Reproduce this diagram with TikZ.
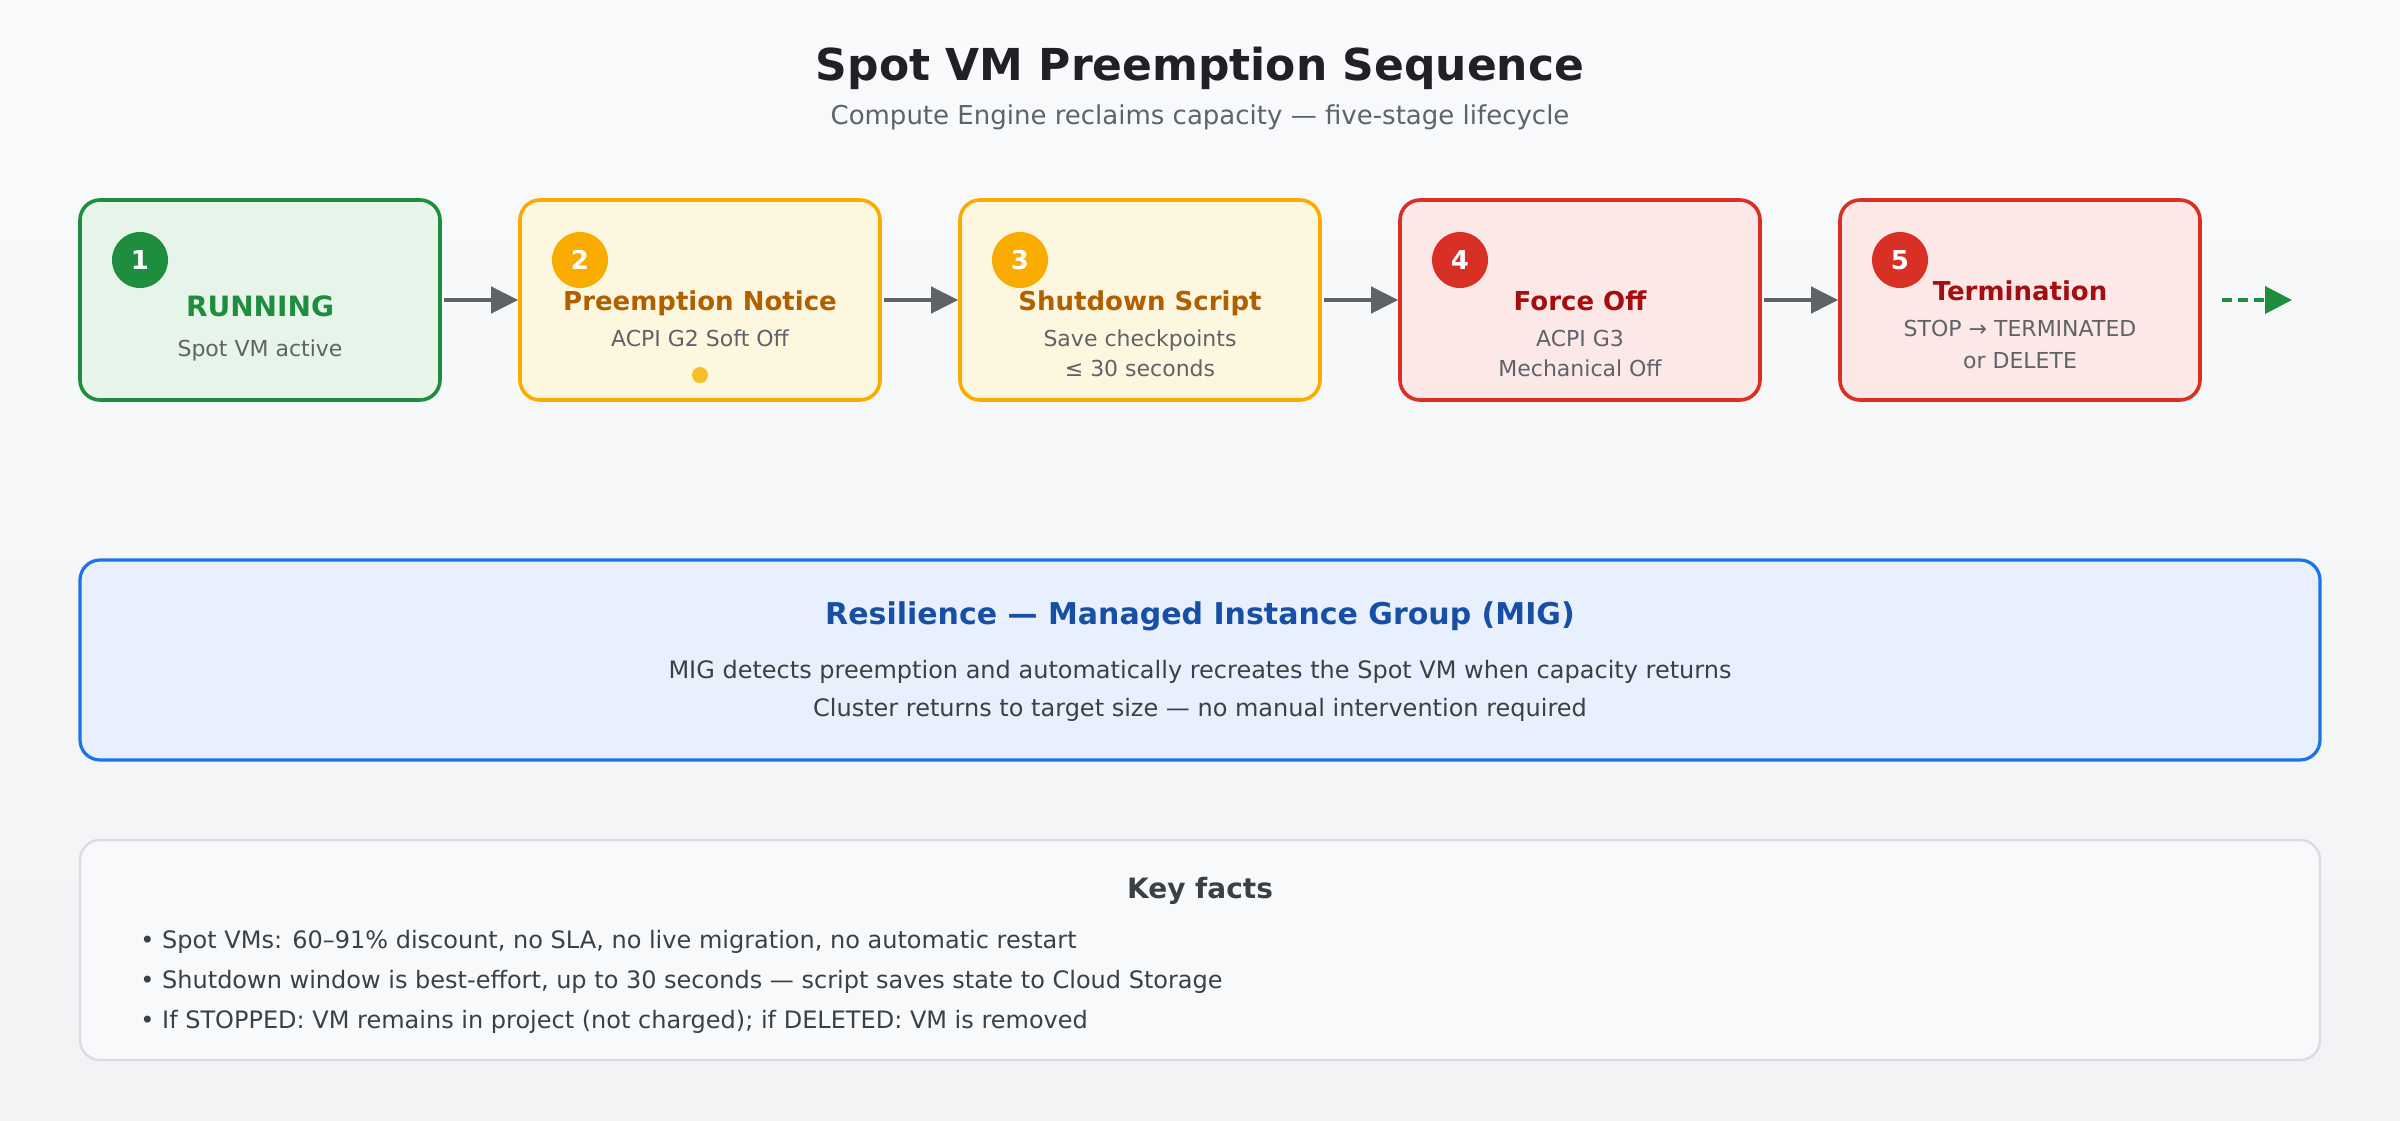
\documentclass[tikz,border=0pt]{standalone}
\usepackage{fontspec}
\setmainfont{DejaVu Sans}
\usetikzlibrary{arrows.meta}
\definecolor{bgtop}{HTML}{F9FAFB}
\definecolor{bgbot}{HTML}{F1F3F5}
\definecolor{ink}{HTML}{202124}
\definecolor{muted}{HTML}{5F6368}
\definecolor{body}{HTML}{3C4043}
\definecolor{gfill}{HTML}{E6F4EA}
\definecolor{gline}{HTML}{1E8E3E}
\definecolor{yfill}{HTML}{FEF7E0}
\definecolor{yline}{HTML}{F9AB00}
\definecolor{ytext}{HTML}{B06000}
\definecolor{ydot}{HTML}{F6BF26}
\definecolor{rfill}{HTML}{FCE8E6}
\definecolor{rline}{HTML}{D93025}
\definecolor{rtext}{HTML}{A50E0E}
\definecolor{bfill}{HTML}{E8F0FE}
\definecolor{bline}{HTML}{1A73E8}
\definecolor{btext}{HTML}{174EA6}
\definecolor{kfill}{HTML}{F8F9FA}
\definecolor{kline}{HTML}{DADCE0}
\newcommand{\fsz}[1]{\fontsize{#1}{#1}\selectfont}
\begin{document}
\begin{tikzpicture}[x=1pt,y=-1pt,
  stepbox/.style={rectangle, rounded corners=10pt, minimum width=180pt, minimum height=100pt, line width=1.8pt, inner sep=0pt},
  panel/.style={rectangle, rounded corners=10pt, minimum width=1120pt, inner sep=0pt},
  badge/.style={circle, minimum size=28pt, inner sep=0pt, text=white, font=\bfseries\fsz{13}},
  steptitle/.style={anchor=base, inner sep=0pt, font=\bfseries\fsz{13}},
  stepsub/.style={anchor=base, inner sep=0pt, text=muted, font=\fsz{11}},
  bodyline/.style={anchor=base, inner sep=0pt, text=body, font=\fsz{12}},
  bullet/.style={anchor=base west, inner sep=0pt, text=body, font=\fsz{12}},
  flow/.style={draw=muted, line width=2pt, -{Triangle[length=13.5pt,width=13pt]}, shorten <=1pt},
  dashflow/.style={draw=gline, line width=2pt, dash pattern=on 5pt off 3pt, -{Triangle[length=13.5pt,width=13.5pt]}}
]
\shade[top color=bgtop, bottom color=bgbot] (0,0) rectangle (1200,560);
\useasboundingbox (0,0) rectangle (1200,560);

% title
\node[anchor=base, inner sep=0pt, text=ink, font=\bfseries\fsz{22}] (title) at (600,40) {Spot VM Preemption Sequence};
\node[anchor=base, inner sep=0pt, text=muted, font=\fsz{13}] (subtitle) at (600,62) {Compute Engine reclaims capacity — five-stage lifecycle};

% stage boxes
\node[stepbox, fill=gfill, draw=gline] (s1) at (130,150) {};
\node[stepbox, fill=yfill, draw=yline] (s2) at (350,150) {};
\node[stepbox, fill=yfill, draw=yline] (s3) at (570,150) {};
\node[stepbox, fill=rfill, draw=rline] (s4) at (790,150) {};
\node[stepbox, fill=rfill, draw=rline] (s5) at (1010,150) {};

% badges
\node[badge, fill=gline] (b1) at (70,130) {1};
\node[badge, fill=yline] (b2) at (290,130) {2};
\node[badge, fill=yline] (b3) at (510,130) {3};
\node[badge, fill=rline] (b4) at (730,130) {4};
\node[badge, fill=rline] (b5) at (950,130) {5};

% stage texts
\node[steptitle, text=gline, font=\bfseries\fsz{14}] (t1) at (130,158) {RUNNING};
\node[stepsub] (d1) at (130,178) {Spot VM active};

\node[steptitle, text=ytext] (t2) at (350,155) {Preemption Notice};
\node[stepsub] (d2) at (350,173) {ACPI G2 Soft Off};
\node[circle, fill=ydot, minimum size=8pt, inner sep=0pt] (dot2) at (350,187.5) {};

\node[steptitle, text=ytext] (t3) at (570,155) {Shutdown Script};
\node[stepsub] (d3a) at (570,173) {Save checkpoints};
\node[stepsub] (d3b) at (570,188) {≤ 30 seconds};

\node[steptitle, text=rtext] (t4) at (790,155) {Force Off};
\node[stepsub] (d4a) at (790,173) {ACPI G3};
\node[stepsub] (d4b) at (790,188) {Mechanical Off};

\node[steptitle, text=rtext] (t5) at (1010,150) {Termination};
\node[stepsub] (d5a) at (1010,168) {STOP → TERMINATED};
\node[stepsub] (d5b) at (1010,184) {or DELETE};

% connectors
\draw[flow] (s1) -- (s2);
\draw[flow] (s2) -- (s3);
\draw[flow] (s3) -- (s4);
\draw[flow] (s4) -- (s5);
\coordinate (next) at (1146,150);
\draw[dashflow, shorten <=10pt] (s5) -- (next);

% MIG panel
\node[panel, minimum height=100pt, fill=bfill, draw=bline, line width=1.6pt] (mig) at (600,330) {};
\node[anchor=base, inner sep=0pt, text=btext, font=\bfseries\fsz{15}] (migt) at (600,312) {Resilience — Managed Instance Group (MIG)};
\node[bodyline] (mig1) at (600,339) {MIG detects preemption and automatically recreates the Spot VM when capacity returns};
\node[bodyline] (mig2) at (600,358) {Cluster returns to target size — no manual intervention required};

% key facts panel
\node[panel, minimum height=110pt, fill=kfill, draw=kline, line width=1.2pt] (kf) at (600,475) {};
\node[anchor=base, inner sep=0pt, text=body, font=\bfseries\fsz{14}] (kft) at (600,449) {Key facts};
\node[bullet] (k1) at (70,474) {• Spot VMs: 60–91\% discount, no SLA, no live migration, no automatic restart};
\node[bullet] (k2) at (70,494) {• Shutdown window is best-effort, up to 30 seconds — script saves state to Cloud Storage};
\node[bullet] (k3) at (70,514) {• If STOPPED: VM remains in project (not charged); if DELETED: VM is removed};
\end{tikzpicture}
\end{document}
